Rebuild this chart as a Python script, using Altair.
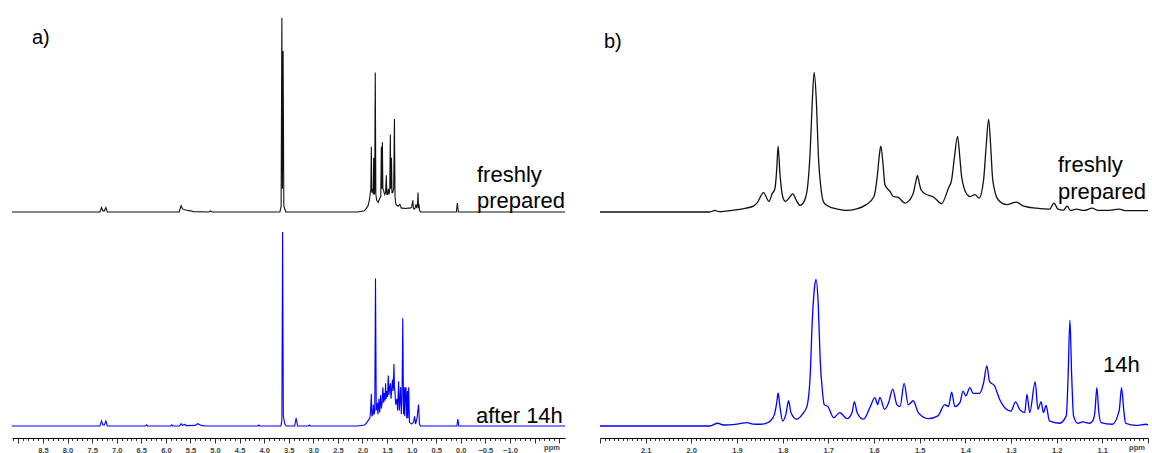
import altair as alt
import pandas as pd

FONT = "Liberation Sans"

# ---------------- panel a) full spectrum ----------------
a_fresh_ppm = [9.13, 7.34, 7.31, 7.28, 7.25, 7.22, 7.19, 5.73, 5.69, 5.66, 5.60, 5.50, 5.44, 5.12, 5.09, 5.06,
               3.68, 3.655, 3.64, 3.628, 3.615, 3.60, 3.56, 2.10, 1.96, 1.92, 1.89, 1.86, 1.845, 1.83, 1.82, 1.81,
               1.795, 1.78, 1.772, 1.765, 1.752, 1.74, 1.728, 1.71, 1.68, 1.65, 1.628, 1.616, 1.606, 1.595, 1.585,
               1.57, 1.55, 1.53, 1.515, 1.505, 1.49, 1.475, 1.46, 1.445, 1.433, 1.425, 1.41, 1.40, 1.385, 1.365,
               1.35, 1.338, 1.32, 1.30, 1.27, 1.24, 1.21, 1.18, 1.12, 1.08, 1.03, 1.00, 0.975, 0.965, 0.95, 0.93,
               0.91, 0.895, 0.88, 0.87, 0.86, 0.85, 0.84, 0.82, 0.09, 0.07, 0.05, -2.12]
a_fresh_int = [0, 0, 2.3, 0.6, 0.6, 2.3, 0, 0, 3.2, 1.6, 1.0, 0.6, 0.2, 0, 0.6, 0,
               0, 3, 100, 12, 83, 3, 0, 0, 0.6, 2, 3, 6, 9, 12, 33.7, 10,
               12, 9, 28, 9, 10, 72, 9, 6, 5, 7, 8, 33.7, 12, 36, 12,
               11, 9, 10, 19, 9, 9, 12, 9, 12, 40, 12, 28, 10, 10, 12,
               48, 8, 4, 3.5, 3, 4, 2, 2, 1.8, 2, 2, 2.5, 6, 2, 1.5, 2,
               4, 2, 4, 10, 2, 4, 1, 0, 0, 4.6, 0, 0]

a_aged_ppm = [9.13, 7.34, 7.31, 7.28, 7.25, 7.22, 7.19, 6.41, 6.39, 6.37, 5.90, 5.88, 5.86, 5.72, 5.69, 5.66,
              5.62, 5.58, 5.40, 5.35, 5.28, 5.20, 4.13, 4.11, 4.09, 3.66, 3.64, 3.625, 3.61, 3.58, 3.55, 3.38,
              3.35, 3.32, 3.10, 3.08, 3.06, 2.10, 1.96, 1.92, 1.88, 1.85, 1.835, 1.82, 1.81, 1.79, 1.78, 1.765,
              1.75, 1.735, 1.72, 1.70, 1.685, 1.665, 1.65, 1.63, 1.615, 1.60, 1.585, 1.57, 1.555, 1.54, 1.53,
              1.52, 1.505, 1.49, 1.475, 1.46, 1.445, 1.43, 1.42, 1.40, 1.39, 1.375, 1.36, 1.35, 1.34, 1.325,
              1.30, 1.285, 1.265, 1.25, 1.24, 1.225, 1.21, 1.195, 1.18, 1.165, 1.15, 1.14, 1.125, 1.115, 1.10,
              1.085, 1.075, 1.06, 1.045, 1.00, 0.96, 0.94, 0.92, 0.89, 0.86, 0.84, 0.82, 0.08, 0.06, 0.04, -2.12]
a_aged_int = [0, 0, 2.6, 0.5, 0.5, 2.6, 0, 0, 0.6, 0, 0, 0.6, 0, 0, 1.2, 0.3,
              0.8, 0.2, 0.3, 1.2, 0.3, 0, 0, 0.5, 0, 0, 3, 100, 5, 1, 0, 0,
              4, 0, 0, 0.5, 0, 0, 0.5, 1.5, 3, 4, 8, 16.5, 5, 6, 11, 6,
              8, 76, 8, 12, 6, 14, 7, 16, 9, 12, 20, 12, 17, 13, 22,
              14, 18, 15, 26, 16, 20, 22, 14, 20, 24, 18, 32, 20, 18, 11,
              14, 8, 23, 8, 12, 20, 6, 16, 55.5, 6, 20, 5, 19, 20, 4,
              18, 4, 20, 2, 1, 2, 5, 1, 4, 11, 1, 0, 0, 3.6, 0, 0]

a_major = [8.5, 8.0, 7.5, 7.0, 6.5, 6.0, 5.5, 5.0, 4.5, 4.0, 3.5, 3.0, 2.5, 2.0, 1.5, 1.0, 0.5, 0.0, -0.5, -1.0]
a_minor = [round(9.1 - 0.1 * i, 1) for i in range(112)]

# ---------------- panel b) 1.0 - 2.2 ppm ----------------
b_fresh_ppm = [2.20, 1.96, 1.948, 1.94, 1.92, 1.90, 1.88, 1.864, 1.855, 1.842, 1.83, 1.823, 1.817, 1.813, 1.81,
               1.806, 1.80, 1.794, 1.785, 1.778, 1.77, 1.762, 1.752, 1.745, 1.74, 1.735, 1.731, 1.726, 1.722,
               1.716, 1.71, 1.70, 1.68, 1.659, 1.64, 1.617, 1.60, 1.593, 1.588, 1.585, 1.58, 1.576, 1.565, 1.558,
               1.547, 1.532, 1.515, 1.509, 1.505, 1.50, 1.497, 1.485, 1.472, 1.467, 1.452, 1.437, 1.43, 1.424,
               1.417, 1.412, 1.408, 1.396, 1.389, 1.379, 1.37, 1.36, 1.355, 1.349, 1.344, 1.34, 1.328, 1.31,
               1.288, 1.274, 1.245, 1.215, 1.206, 1.197, 1.185, 1.177, 1.17, 1.157, 1.14, 1.122, 1.11, 1.09,
               1.063, 1.05, 1.0]
b_fresh_int = [0, 0, 0.8, 0.2, 0.6, 1.2, 2, 3, 5, 10, 5.5, 9.4, 12, 22, 34,
               20, 8, 5.5, 7.5, 9.4, 6, 3.4, 6, 14, 30, 58, 72, 56, 30,
               12, 5, 3, 1.5, 0.8, 1.5, 3.8, 8, 18, 30, 34, 24, 14, 10.6, 8,
               7.5, 4.6, 9, 15, 18.7, 14, 11.5, 9, 8, 7.2, 4.3, 12.3, 16.6, 28,
               39, 28, 18, 9, 8, 9, 7.2, 16.6, 32, 47.8, 32, 16.6, 6.3, 3.8,
               5.1, 3.2, 2, 1.5, 4.6, 1.5, 1, 3, 0.8, 1.5, 0.8, 2, 0.8, 0.8,
               1.5, 0.7, 0.7]

b_aged_ppm = [2.20, 1.96, 1.942, 1.93, 1.90, 1.878, 1.865, 1.849, 1.835, 1.827, 1.818, 1.813, 1.81, 1.806, 1.80,
              1.793, 1.787, 1.782, 1.769, 1.757, 1.747, 1.74, 1.735, 1.73, 1.727, 1.722, 1.718, 1.713, 1.709,
              1.701, 1.688, 1.675, 1.659, 1.648, 1.643, 1.637, 1.623, 1.609, 1.598, 1.592, 1.587, 1.577, 1.568,
              1.559, 1.55, 1.543, 1.534, 1.525, 1.514, 1.503, 1.481, 1.46, 1.445, 1.437, 1.43, 1.423, 1.412,
              1.405, 1.399, 1.39, 1.383, 1.369, 1.36, 1.353, 1.347, 1.336, 1.325, 1.31, 1.30, 1.29, 1.281,
              1.27, 1.265, 1.259, 1.247, 1.241, 1.234, 1.229, 1.223, 1.216, 1.194, 1.179, 1.175, 1.171, 1.167,
              1.163, 1.154, 1.143, 1.128, 1.121, 1.116, 1.112, 1.108, 1.103, 1.078, 1.063, 1.058, 1.053, 1.049,
              1.026, 1.004, 1.0]
b_aged_int = [0, 0, 1.4, 0.5, 1, 1.7, 1, 0.9, 1.5, 2.6, 6, 12, 17, 10, 2.6,
              6, 13, 7, 3.5, 6, 10, 25, 55, 72, 75.6, 62, 35, 18, 11,
              10, 4.3, 6.9, 3.8, 7, 12.5, 7, 3.5, 9.5, 14.6, 11, 14.8, 8.6, 12,
              19, 11, 10, 22, 11, 13, 6.9, 3.8, 5.2, 11, 10, 17.5, 10, 12,
              18, 15.5, 19.8, 16.8, 16.8, 22.3, 31, 23, 20.6, 13.8, 8.6, 7.7, 12.4, 8.6,
              6.9, 16.3, 6.9, 22.7, 8.6, 12.4, 6.9, 10.6, 2.6, 1.4, 5.2, 25, 54.6, 25,
              5.2, 1.4, 2.1, 1.4, 2.6, 8, 19.8, 8, 1.7, 0.9, 8, 19.8, 8, 1.4,
              0.3, 0.9, 0.5]

b_major = [2.1, 2.0, 1.9, 1.8, 1.7, 1.6, 1.5, 1.4, 1.3, 1.2, 1.1]
b_minor = [round(2.2 - 0.01 * i, 2) for i in range(121)]

# ---------------- texts ----------------
panel_labels = ["a)", "b)"]
trace_labels_a = ["freshly\nprepared", "after 14h"]
trace_labels_b = ["freshly\nprepared", "14h"]
unit_label = "ppm"


def frame(p, v):
    return pd.DataFrame({"ppm": p, "intensity": v})


def make_axis(ticks, majors, step_mult, decimals):
    test = f"abs(datum.value*{step_mult} - round(datum.value*{step_mult})) < 0.001"
    major_list = "[" + ",".join(str(m) for m in majors) + "]"
    return alt.Axis(
        values=ticks,
        labelExpr=f"indexof({major_list}, round(datum.value*100)/100) >= 0 ? format(datum.value, '.{decimals}f') : ''",
        tickSize={"condition": {"test": test, "value": 5}, "value": 2.5},
        tickColor="black",
        tickWidth=0.8,
        domainColor="black",
        domainWidth=1,
        labelFont=FONT,
        labelFontSize=7.5,
        labelFontWeight="bold",
        labelColor="#444444",
        labelPadding=3,
        labelOverlap=False,
        labelFlush=False,
        grid=False,
        title=None,
    )


def trace(df, color, xscale, yscale, axis, w, h, interp, sw):
    return alt.Chart(df).mark_line(color=color, strokeWidth=sw, interpolate=interp, clip=True).encode(
        x=alt.X("ppm:Q", scale=xscale, axis=axis),
        y=alt.Y("intensity:Q", scale=yscale, axis=None),
        order=alt.Order("ppm:Q", sort="descending"),
    ).properties(width=w, height=h)


def text(label, x, y, size, align="left", line_height=26, weight="normal", color="black"):
    return alt.Chart(pd.DataFrame({"label": [label]})).mark_text(
        font=FONT, fontSize=size, align=align, baseline="alphabetic", color=color,
        lineBreak="\n", lineHeight=line_height, fontWeight=weight,
    ).encode(text="label:N", x=alt.value(x), y=alt.value(y))


TOP_H = 208
BOT_H = 216
WA = 553
WB = 548

ytop = alt.Scale(domain=[-2.06, 105.2], nice=False, zero=False)
ybot = alt.Scale(domain=[-6.2, 105.2], nice=False, zero=False)

xa = alt.Scale(domain=[-2.12, 9.13], reverse=True, nice=False, zero=False)
xb = alt.Scale(domain=[1.0, 2.2], reverse=True, nice=False, zero=False)

axis_a = make_axis(a_minor, a_major, 2, 1)
axis_b = make_axis(b_minor, b_major, 10, 1)

top_a = alt.layer(
    trace(frame(a_fresh_ppm, a_fresh_int), "#111111", xa, ytop, None, WA, TOP_H, "linear", 1.1),
    text(panel_labels[0], 20, 36, 20),
    text(trace_labels_a[0], 465, 174, 22),
)
bot_a = alt.layer(
    trace(frame(a_aged_ppm, a_aged_int), "#0000ff", xa, ybot, axis_a, WA, BOT_H, "linear", 1.1),
    text(trace_labels_a[1], 464, 201, 22),
    text(unit_label, 540, 228, 7.5, align="center", weight="bold", color="#444444"),
)
top_b = alt.layer(
    trace(frame(b_fresh_ppm, b_fresh_int), "#111111", xb, ytop, None, WB, TOP_H, "monotone", 1.3),
    text(panel_labels[1], 4, 40, 20),
    text(trace_labels_b[0], 458, 164, 22, line_height=26.5),
)
bot_b = alt.layer(
    trace(frame(b_aged_ppm, b_aged_int), "#0000ff", xb, ybot, axis_b, WB, BOT_H, "monotone", 1.3),
    text(trace_labels_b[1], 503, 150, 22),
    text(unit_label, 537, 228, 7.5, align="center", weight="bold", color="#444444"),
)

chart = alt.concat(
    top_a, top_b, bot_a, bot_b, columns=2,
    spacing={"row": 6, "column": 35}, bounds="flush",
).properties(
    padding={"left": 12, "top": 8, "right": 0, "bottom": 0},
    background="white",
).configure_view(stroke=None)

chart.save("out.html", embed_options={"renderer": "svg", "actions": False})
